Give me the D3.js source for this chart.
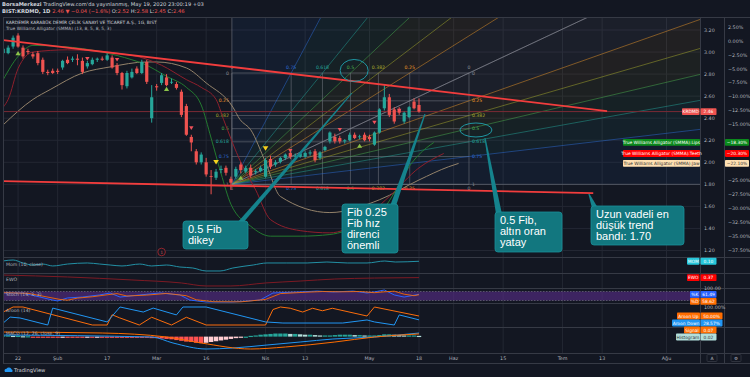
<!DOCTYPE html>
<html><head><meta charset="utf-8">
<script src="https://cdn.jsdelivr.net/npm/d3@7"></script>
<style>
body{margin:0;background:#131722;}
svg{display:block;font-family:"DejaVu Sans",sans-serif;}
</style></head><body>
<svg id="chart" width="750" height="377"></svg>
<script>
// daily bars, [open, high, low, close]
const candles = [
[2.99,3.05,2.97,3.03],[2.99,3.06,2.98,3.04],[3.05,3.15,3.03,3.13],[3.15,3.17,3.04,3.05],
[3.04,3.06,2.94,2.96],[3.01,3.03,2.98,3.00],[2.98,3.00,2.94,2.96],[2.99,3.01,2.88,2.90],
[2.93,2.95,2.80,2.82],[2.82,2.84,2.79,2.81],[2.83,2.85,2.80,2.81],[2.83,2.85,2.80,2.82],
[2.86,2.93,2.84,2.92],[2.93,2.96,2.89,2.90],[2.93,2.96,2.91,2.94],[2.94,2.98,2.88,2.93],
[2.92,2.95,2.80,2.82],[2.87,2.92,2.85,2.90],[2.89,2.95,2.88,2.93],[2.93,2.95,2.91,2.94],
[2.94,2.96,2.92,2.93],[2.93,2.99,2.92,2.97],[2.95,2.97,2.85,2.86],[2.88,2.90,2.79,2.81],
[2.81,2.82,2.66,2.70],[2.69,2.83,2.67,2.81],[2.77,2.85,2.76,2.82],[2.85,2.87,2.80,2.81],
[2.81,2.93,2.80,2.91],[2.91,2.93,2.71,2.73],[2.40,2.70,2.36,2.59],[2.69,2.71,2.65,2.68],
[2.72,2.81,2.70,2.79],[2.77,2.80,2.69,2.70],[2.73,2.76,2.71,2.73],[2.71,2.73,2.66,2.675],
[2.64,2.66,2.41,2.43],[2.51,2.53,2.24,2.25],[2.23,2.25,2.10,2.18],[2.10,2.12,1.98,2.00],
[2.00,2.09,1.98,2.07],[2.00,2.04,1.87,1.89],[1.875,1.93,1.71,1.87],[1.86,1.94,1.84,1.915],
[1.93,1.97,1.90,1.94],[1.95,1.97,1.88,1.905],[1.85,1.87,1.75,1.815],[1.87,1.96,1.85,1.94],
[1.98,2.00,1.90,1.93],[1.915,1.97,1.90,1.95],[1.95,1.98,1.86,1.88],[1.91,1.94,1.89,1.92],
[1.92,1.97,1.91,1.95],[1.87,2.04,1.86,2.02],[2.03,2.06,1.94,1.96],[1.98,2.02,1.96,2.00],
[2.005,2.05,1.99,2.04],[2.04,2.08,2.02,2.07],[2.085,2.10,2.03,2.05],[2.06,2.08,2.04,2.06],
[2.05,2.09,2.04,2.08],[2.05,2.10,2.04,2.085],[2.08,2.11,2.06,2.09],[2.10,2.12,2.00,2.02],
[2.04,2.10,2.02,2.09],[2.11,2.15,2.10,2.14],[2.19,2.28,2.17,2.27],[2.23,2.26,2.17,2.19],
[2.22,2.24,2.17,2.19],[2.19,2.21,2.17,2.20],[2.20,2.27,2.19,2.25],[2.25,2.27,2.21,2.22],
[2.23,2.25,2.21,2.235],[2.25,2.27,2.19,2.20],[2.23,2.25,2.19,2.21],[2.16,2.28,2.15,2.27],
[2.27,2.49,2.26,2.48],[2.49,2.70,2.47,2.59],[2.59,2.62,2.41,2.43],[2.48,2.50,2.35,2.37],
[2.48,2.50,2.43,2.45],[2.37,2.46,2.35,2.45],[2.41,2.51,2.40,2.50],[2.55,2.58,2.48,2.49],
[2.52,2.58,2.45,2.46]
];

// alligator lines [bar index, value]
const lips = [[0,2.75],[3,2.96],[6,3.06],[12,3.05],[20,3.00],[26,2.93],[28,2.90],[33,2.78],[37,2.68],[40,2.52],[42,2.22],[44,1.90],[46,1.62],[50,1.42],[54,1.33],[60,1.33],[66,1.345],[72,1.43],[76,1.53],[80,1.80],[82,1.96],[84,2.07],[87,2.18]];
const teeth = [[0,2.50],[1,2.57],[3,2.85],[6,3.00],[13,3.02],[26,2.97],[32,2.88],[37,2.75],[40,2.68],[43,2.57],[44.5,2.39],[48,2.00],[51,1.75],[54,1.48],[60,1.38],[66,1.36],[72,1.46],[78,1.69],[84,1.95],[89,2.08]];
const jaw = [[0,2.34],[6,2.57],[9.5,2.66],[16,2.81],[21.6,2.865],[29,2.91],[31,2.91],[37,2.856],[41,2.72],[46.4,2.50],[47.8,2.39],[50,2.295],[53,2.00],[56,1.69],[66,1.544],[76,1.66],[84,1.84],[90,1.96],[92,1.99]];
const alligatorPct = ["\u221218.30%","\u221220.30%","\u221222.10%"];

// fractal markers [bar index, value]
const fractalRed = [[17,2.94],[23,2.93],[38,2.31],[58,2.105],[68,2.295],[75,2.36],[80,2.47]];
const fractalYellow = [[43,2.00],[53,2.125]];
const fractalGreen = [[3,2.99],[33,2.666],[48,1.86],[72,2.15]];

// trend lines drawn on the chart
const trendUpper = [[0,3.109],[122,2.465]];
const trendLower = [[0,1.830],[119.2,1.72]];

// fib speed resistance fan
const fibStart = [46.2, 1.80];
const fibEnd = [94.1, 2.81];
const fibLevels = [0, 0.25, 0.382, 0.5, 0.618, 0.75, 1];
const fibColors = ["#8a8d96","#e8962a","#a9ad2e","#4caf50","#26a69a","#2f6fd8","#8a8d96"];

// sub panes
const mom = [[0,0.13],[2,0.22],[4,-0.06],[6,-0.25],[8,-0.16],[10,-0.34],[13,-0.16],[17,-0.06],[19.5,-0.16],[21.6,-0.25],[24,-0.34],[27.6,-0.16],[30,-0.34],[33,-0.25],[35.7,-0.44],[38.3,-0.53],[41,-0.81],[43.8,-0.81],[46.4,-0.53],[50.5,-0.25],[53.3,-0.06],[57.3,-0.06],[61.4,-0.06],[65.4,0.03],[69.5,-0.06],[73.5,-0.06],[77.1,0.125],[79.2,0.03],[84,0.10]];
const ewo = [[0,0.61],[13,0.43],[26,0.15],[36,-0.13],[41,-0.41],[46,-0.41],[53,-0.13],[60,0.05],[67,0.24],[75,0.33],[84,0.37]];
const stochK = [[0,70],[4,70],[10,23],[11,17],[13,37],[16,43],[19.5,57],[21.6,70],[23.6,43],[27.6,57],[31.7,70],[35.7,57],[37.7,23],[41,10],[46.4,10],[51.9,23],[54.5,70],[60,77],[63.4,83],[66.6,77],[70.7,83],[73.5,70],[75,77],[77,90],[79,57],[81,43],[84,61.49]];
const stochD = [[0,72],[5,68],[11.5,27],[13,22],[15,36],[18,45],[21,58],[23,66],[25,50],[29,56],[33,67],[37,52],[39,25],[42.5,12],[48,11],[53,27],[56,66],[61,75],[64.5,80],[68,78],[72,80],[75,72],[77,78],[79,82],[81,62],[83,52],[84,58.62]];
const aroonUp = [[0,72],[2,100],[4,100],[18,0],[21,0],[22,57],[23.5,40],[27.5,0],[30,43],[34,0],[37,43],[41,0],[53,0],[54.5,86],[56,100],[58,93],[60.5,72],[62.5,93],[64.5,79],[66.5,93],[73.5,50],[75,100],[84,50]];
const aroonDown = [[0,11],[1.4,44],[3.4,39],[9,0],[10,94],[21,17],[23.6,100],[28.3,72],[30.3,94],[35,56],[36.3,100],[41,100],[53,17],[56.5,11],[68.6,11],[73.5,28],[75,17],[79,0],[80,56],[84,28.57]];
const macdLine = [[0,0.04],[30,-0.01],[34.3,-0.166],[41,-0.322],[46.4,-0.296],[53.3,-0.218],[60,-0.14],[66.6,-0.062],[75,-0.01],[84,0.094]];
const macdSignal = [[0,0.12],[20,0.094],[33,-0.01],[40,-0.166],[50,-0.322],[57,-0.27],[67,-0.14],[75,-0.01],[84,0.07]];
const macdHist = [0.03,0.03,0.02,0.02,0.01,0.01,
-0.01,-0.02,-0.03,-0.03,-0.03,-0.03,-0.02,-0.02,-0.02,-0.02,-0.03,-0.02,
-0.02,-0.01,-0.01,-0.01,-0.01,-0.01,-0.02,-0.02,-0.02,-0.02,-0.02,-0.03,-0.04,-0.04,
-0.05,-0.06,-0.07,-0.09,-0.11,-0.13,-0.14,-0.16,-0.17,
-0.16,-0.14,-0.12,-0.10,-0.08,-0.06,-0.04,-0.02,
0.00,0.02,0.03,0.05,0.06,0.07,0.08,0.08,0.08,0.07,0.07,0.06,
0.05,0.05,0.04,0.03,0.03,0.03,0.04,0.05,0.05,0.05,
0.04,0.04,0.03,0.03,0.03,0.04,0.06,0.06,0.05,0.04,0.03,0.03,0.03,0.02];

// axes
const timeTicks = [[3,"22"],[11,"\u015eub"],[21,"17"],[31,"Mar"],[41,"16"],[53,"Nis"],[61,"13"],[74,"May"],[84,"18"],[91,"Haz"],[101,"15"],[113,"Tem"],[121,"13"],[134,"A\u011fu"]];
const priceTicks = [1.2,1.4,1.6,1.8,2.0,2.2,2.4,2.6,2.8,3.0,3.2];
const pctTicks = [2.5,0,-2.5,-5,-7.5,-10,-12.5,-15,-17.5,-20,-22.5,-25,-27.5,-30,-32.5,-35,-37.5];

// notes
const notes = [
  {lines:["0.5 Fib","dikey"], box:[183,221,65,28], base:-8, tip:[70.46,2.6286]},
  {lines:["Fib 0.25","Fib h\u0131z","direnci","\u00f6nemli"], box:[342,204,56,49], base:-5, tip:[85.2,2.438]},
  {lines:["0.5 Fib,","alt\u0131n oran","yatay"], box:[495,212,67,40], base:4, tip:[97.33,2.2204]},
  {lines:["Uzun vadeli en","d\u00fc\u015f\u00fck trend","band\u0131: 1.70"], box:[591,206,93,39], base:4, tip:[118.34,1.7125]}
];

const svg = d3.select("#chart");
const up = "#26a69a", down = "#ef5350";
const gridC = "#232733", sepC = "#363a45", txt = "#b2b5be";
const L = 3, R = 700, R2 = 724;
const panes = {main:[17,257], mom:[257,273], ewo:[273,288], stoch:[288,303], aroon:[303,327], macd:[327,353]};

const x = d3.scaleLinear().domain([0, 136]).range([3.2, 3.2 + 136 * 4.95]);
const y = d3.scaleLinear().domain([1.2, 3.2]).range([250.5, 30]);
const yPct = d3.scaleLinear().domain([-37.5, 2.5]).range([250, 27]);
const yMom = d3.scaleLinear().domain([-1, 0.5]).range([273, 257]);
const yEwo = d3.scaleLinear().domain([-0.6, 0.8]).range([288, 273]);
const yStoch = d3.scaleLinear().domain([0, 100]).range([303.5, 288.5]);
const yAroon = d3.scaleLinear().domain([0, 100]).range([325, 307]);
const yMacd = d3.scaleLinear().domain([-0.4, 0.25]).range([352, 327]);

svg.append("rect").attr("width", 750).attr("height", 377).attr("fill", "#131722");

const defs = svg.append("defs");
Object.entries(panes).forEach(([k, p]) => {
  defs.append("clipPath").attr("id", "clip-" + k)
    .append("rect").attr("x", L).attr("y", p[0]).attr("width", R - L).attr("height", p[1] - p[0]);
});

// grid
const grid = svg.append("g");
grid.selectAll("line.v").data(timeTicks).join("line")
  .attr("x1", d => x(d[0])).attr("x2", d => x(d[0]))
  .attr("y1", 17).attr("y2", 353).attr("stroke", gridC);
grid.selectAll("line.h").data(priceTicks).join("line")
  .attr("x1", L).attr("x2", R).attr("y1", d => y(d)).attr("y2", d => y(d)).attr("stroke", gridC);

// fib fan
const fan = svg.append("g").attr("clip-path", "url(#clip-main)");
const A = {x: x(fibStart[0]), y: y(fibStart[1])};
const B = {x: x(fibEnd[0]), y: y(fibEnd[1])};
const hPts = fibLevels.map(l => ({x: B.x, y: B.y + l * (A.y - B.y)}));
const vPts = fibLevels.map(l => ({x: B.x - l * (B.x - A.x), y: B.y}));
const far = p => [A.x + (p.x - A.x) * 20, A.y + (p.y - A.y) * 20];
[hPts, vPts].forEach(pts => {
  for (let k = 0; k < pts.length - 1; k++) {
    fan.append("polygon")
      .attr("points", [[A.x, A.y], far(pts[k]), far(pts[k + 1])].map(p => p.join(",")).join(" "))
      .attr("fill", fibColors[k]).attr("fill-opacity", 0.07);
  }
});
fibLevels.forEach((l, k) => {
  fan.append("line").attr("x1", A.x).attr("y1", hPts[k].y).attr("x2", B.x).attr("y2", hPts[k].y)
    .attr("stroke", "#6b6f7a").attr("stroke-opacity", 0.6);
  fan.append("line").attr("x1", vPts[k].x).attr("y1", B.y).attr("x2", vPts[k].x).attr("y2", A.y)
    .attr("stroke", "#6b6f7a").attr("stroke-opacity", 0.6);
});
[hPts, vPts].forEach(pts => {
  pts.forEach((p, k) => {
    const f = far(p);
    fan.append("line").attr("x1", A.x).attr("y1", A.y).attr("x2", f[0]).attr("y2", f[1])
      .attr("stroke", fibColors[k]).attr("stroke-opacity", 0.55).attr("stroke-width", 0.9);
  });
});
const fibLab = svg.append("g").attr("font-size", 4.6);
fibLevels.forEach((l, k) => {
  const t = String(l);
  fibLab.append("text").attr("x", A.x - 3).attr("y", hPts[k].y + 1.6).attr("text-anchor", "end").attr("fill", fibColors[k]).text(t);
  fibLab.append("text").attr("x", B.x + 3).attr("y", hPts[k].y + 1.6).attr("fill", fibColors[k]).text(t);
  fibLab.append("text").attr("x", vPts[k].x).attr("y", B.y - 4).attr("text-anchor", "middle").attr("fill", fibColors[k]).text(t);
  fibLab.append("text").attr("x", vPts[k].x).attr("y", A.y + 6).attr("text-anchor", "middle").attr("fill", fibColors[k]).text(t);
});

// alligator
const gMain = svg.append("g").attr("clip-path", "url(#clip-main)");
const smooth = d3.line().x(d => x(d[0])).y(d => y(d[1])).curve(d3.curveMonotoneX);
gMain.append("path").attr("d", smooth(jaw)).attr("fill", "none").attr("stroke", "#93826a").attr("stroke-width", 1);
gMain.append("path").attr("d", smooth(teeth)).attr("fill", "none").attr("stroke", "#8e1f2c").attr("stroke-width", 1);
gMain.append("path").attr("d", smooth(lips)).attr("fill", "none").attr("stroke", "#237a30").attr("stroke-width", 1);

// last price line
gMain.append("line").attr("x1", L).attr("x2", R)
  .attr("y1", y(candles[candles.length - 1][3])).attr("y2", y(candles[candles.length - 1][3]))
  .attr("stroke", "#7a2b35").attr("stroke-width", 1);

// candles
gMain.selectAll("line.wick").data(candles).join("line")
  .attr("x1", (d, i) => x(i)).attr("x2", (d, i) => x(i))
  .attr("y1", d => y(d[1])).attr("y2", d => y(d[2]))
  .attr("stroke", d => d[3] >= d[0] ? up : down);
gMain.selectAll("rect.body").data(candles).join("rect")
  .attr("x", (d, i) => x(i) - 1.6).attr("width", 3.2)
  .attr("y", d => y(Math.max(d[0], d[3])))
  .attr("height", d => Math.max(0.8, Math.abs(y(d[0]) - y(d[3]))))
  .attr("fill", d => d[3] >= d[0] ? up : down);

// fractals
const tri = (cx, cy, s, dir) => dir > 0
  ? `M${cx - s},${cy + s * 0.8}L${cx + s},${cy + s * 0.8}L${cx},${cy - s * 0.8}Z`
  : `M${cx - s},${cy - s * 0.8}L${cx + s},${cy - s * 0.8}L${cx},${cy + s * 0.8}Z`;
gMain.selectAll("path.fr").data(fractalRed).join("path")
  .attr("d", d => tri(x(d[0]), y(d[1]), 2.2, -1)).attr("fill", "#f0515a");
gMain.selectAll("path.fy").data(fractalYellow).join("path")
  .attr("d", d => tri(x(d[0]), y(d[1]), 2.8, -1)).attr("fill", "#f5d21e");
gMain.selectAll("path.fg").data(fractalGreen).join("path")
  .attr("d", d => tri(x(d[0]), y(d[1]), 2.6, 1)).attr("fill", "#8bc34a");

// trend lines
[trendUpper, trendLower].forEach(t => {
  gMain.append("line").attr("x1", x(t[0][0])).attr("y1", y(t[0][1]))
    .attr("x2", x(t[1][0])).attr("y2", y(t[1][1]))
    .attr("stroke", "#f23d3d").attr("stroke-width", 1.8);
});

// circled labels
gMain.append("ellipse").attr("cx", x(70.9)).attr("cy", y(2.833)).attr("rx", 14).attr("ry", 11)
  .attr("fill", "none").attr("stroke", "#1fa3b0").attr("stroke-width", 0.9);
gMain.append("ellipse").attr("cx", x(95.5)).attr("cy", y(2.293)).attr("rx", 16).attr("ry", 7)
  .attr("fill", "none").attr("stroke", "#1fa3b0").attr("stroke-width", 0.9);

// event marker
gMain.append("circle").attr("cx", x(32)).attr("cy", 252).attr("r", 3.8)
  .attr("fill", "#131722").attr("stroke", "#b02a30").attr("stroke-width", 0.8);
gMain.append("text").attr("x", x(32)).attr("y", 253.6).attr("text-anchor", "middle")
  .attr("font-size", 4.5).attr("fill", "#d05058").text("1");

// sub panes
function pane(key, fn) {
  const g = svg.append("g").attr("clip-path", "url(#clip-" + key + ")");
  fn(g);
}
const mkLine = (ys, curve) => d3.line().x(d => x(d[0])).y(d => ys(d[1])).curve(curve);
pane("mom", g => {
  g.append("path").attr("d", mkLine(yMom, d3.curveMonotoneX)(mom)).attr("fill", "none").attr("stroke", "#2390a5");
});
pane("ewo", g => {
  g.append("path").attr("d", mkLine(yEwo, d3.curveMonotoneX)(ewo)).attr("fill", "none").attr("stroke", "#7d1a24");
});
pane("stoch", g => {
  g.append("rect").attr("x", L).attr("width", R - L).attr("y", yStoch(80)).attr("height", yStoch(20) - yStoch(80))
    .attr("fill", "#5a2d8c").attr("fill-opacity", 0.6);
  [80, 20].forEach(v => g.append("line").attr("x1", L).attr("x2", R).attr("y1", yStoch(v)).attr("y2", yStoch(v))
    .attr("stroke", "#787b86").attr("stroke-dasharray", "1.5,1.5").attr("stroke-width", 0.6));
  g.append("path").attr("d", mkLine(yStoch, d3.curveLinear)(stochK)).attr("fill", "none").attr("stroke", "#2962ff");
  g.append("path").attr("d", mkLine(yStoch, d3.curveLinear)(stochD)).attr("fill", "none").attr("stroke", "#ff6d00").attr("stroke-opacity", 0.85);
});
pane("aroon", g => {
  g.append("path").attr("d", mkLine(yAroon, d3.curveLinear)(aroonUp)).attr("fill", "none").attr("stroke", "#fb6d0c");
  g.append("path").attr("d", mkLine(yAroon, d3.curveLinear)(aroonDown)).attr("fill", "none").attr("stroke", "#2196f3");
});
pane("macd", g => {
  g.selectAll("rect").data(macdHist).join("rect")
    .attr("x", (d, i) => x(i) - 2.2).attr("width", 4.4)
    .attr("y", d => Math.min(yMacd(0), yMacd(d)))
    .attr("height", d => Math.max(1.2, Math.abs(yMacd(d) - yMacd(0))))
    .attr("fill", (d, i) => {
      const p = i > 0 ? macdHist[i - 1] : d;
      if (d >= 0) return d >= p ? "#26a69a" : "#b2dfdb";
      return d <= p ? "#ff5252" : "#ffcdd2";
    });
  g.append("path").attr("d", mkLine(yMacd, d3.curveMonotoneX)(macdLine)).attr("fill", "none").attr("stroke", "#2196f3");
  g.append("path").attr("d", mkLine(yMacd, d3.curveMonotoneX)(macdSignal)).attr("fill", "none").attr("stroke", "#ff6d00");
});

// separators and borders
const sep = svg.append("g").attr("stroke", sepC).attr("stroke-width", 1);
[17, 257, 273, 288, 303, 327, 353, 363].forEach(v =>
  sep.append("line").attr("x1", L).attr("x2", 750).attr("y1", v + 0.5).attr("y2", v + 0.5));
[L, R, R2].forEach(v => sep.append("line").attr("x1", v + 0.5).attr("x2", v + 0.5).attr("y1", 17).attr("y2", 363));

// notes
const gNotes = svg.append("g");
notes.forEach(n => {
  const [bx, by, bw, bh] = n.box;
  const baseX = n.base < 0 ? bx + bw + n.base : bx + n.base;
  const tx = x(n.tip[0]), ty = y(n.tip[1]);
  gNotes.append("path")
    .attr("d", `M${baseX - 3},${by + 2}L${baseX + 3},${by + 2}L${tx + 0.6},${ty}L${tx - 0.6},${ty}Z`)
    .attr("fill", "#15838d");
  gNotes.append("rect").attr("x", bx).attr("y", by).attr("width", bw).attr("height", bh).attr("rx", 3)
    .attr("fill", "#12777f").attr("stroke", "#1a8f99").attr("stroke-width", 0.8);
  n.lines.forEach((t, j) => {
    gNotes.append("text").attr("x", bx + 5).attr("y", by + 11.5 + j * 11)
      .attr("font-family", "Liberation Sans, sans-serif").attr("font-size", 11).attr("fill", "#ffffff").text(t);
  });
});

// value tags
const last = candles[candles.length - 1][3];
const alligTags = [[lips, "Lips", "#0b8a1c", "#ffffff"], [teeth, "Teeth", "#ff0000", "#ffffff"], [jaw, "Jaw", "#ffe0b2", "#333333"]];
const tagRows = alligTags.map(a => y(a[0][a[0].length - 1][1]));

// axes text
const ax = svg.append("g").attr("font-size", 4.8).attr("fill", txt);
priceTicks.forEach(v => ax.append("text").attr("x", 704).attr("y", y(v) + 1.7).text(v.toFixed(2)));
pctTicks.filter(v => tagRows.every(r => Math.abs(yPct(v) - r) > 5)).forEach(v =>
  ax.append("text").attr("x", 728).attr("y", yPct(v) + 1.7)
    .text((v < 0 ? "\u2212" : "") + Math.abs(v).toFixed(2) + "%"));
timeTicks.forEach(t => ax.append("text").attr("x", x(t[0])).attr("y", 360).attr("text-anchor", "middle").text(t[1]));
ax.append("text").attr("x", 704).attr("y", 290).text("100.00");
ax.append("text").attr("x", 704).attr("y", 308.5).text("100.00%");

function tag(x0, yc, w, t, bg, fg) {
  svg.append("rect").attr("x", x0).attr("y", yc - 3.4).attr("width", w).attr("height", 6.8).attr("rx", 0.8).attr("fill", bg);
  svg.append("text").attr("x", x0 + w / 2).attr("y", yc + 1.6).attr("text-anchor", "middle")
    .attr("font-size", 4.4).attr("fill", fg || "#ffffff").text(t);
}
tag(682, y(last), 17.5, "KRDMD", "#ef5350");
tag(700.5, y(last), 16, last.toFixed(2), "#ef5350");
alligTags.forEach((a, k) => {
  tag(623, tagRows[k], 77, "True Williams Alligator (SMMA):" + a[1], a[2], a[3]);
  tag(725, tagRows[k], 24, alligatorPct[k], a[2], a[3]);
});
tag(687, yMom(0.10), 12.5, "MOM", "#26c6da");
tag(700.5, yMom(0.10), 16, "0.10", "#26c6da");
tag(687, yEwo(0.37), 12.5, "EWO", "#ff0000");
tag(700.5, yEwo(0.37), 16, "0.37", "#ff0000");
tag(690, yStoch(61.49), 9.5, "%K", "#2962ff");
tag(700.5, yStoch(61.49), 16, "61.49", "#2962ff");
tag(690, yStoch(61.49) + 7, 9.5, "%D", "#ff6d00");
tag(700.5, yStoch(61.49) + 7, 16, "58.62", "#ff6d00");
tag(677, yAroon(50), 23, "Aroon Up", "#ff6d00");
tag(700.5, yAroon(50), 22, "50.00%", "#ff6d00");
tag(672, yAroon(50) + 7, 28, "Aroon Down", "#2196f3");
tag(700.5, yAroon(50) + 7, 22, "28.57%", "#2196f3");
tag(684, 330, 16, "Signal", "#ff6d00");
tag(700.5, 330, 16, "0.07", "#ff6d00");
tag(676, 337, 24, "Histogram", "#b2dfdb", "#333333");
tag(700.5, 337, 16, "0.02", "#b2dfdb", "#333333");

// pane titles
const pt = svg.append("g").attr("font-size", 4.6).attr("fill", txt);
pt.append("text").attr("x", 6).attr("y", 265.5).text("Mom (10, close)");
pt.append("text").attr("x", 6).attr("y", 281).text("EWO");
pt.append("text").attr("x", 6).attr("y", 296).text("Stoch (14, 3, 3)");
pt.append("text").attr("x", 6).attr("y", 311.5).text("Aroon (14)");
pt.append("text").attr("x", 6).attr("y", 335).text("MACD (12, 26, close, 9)");
pt.append("text").attr("x", 6).attr("y", 24).attr("font-size", 4.4).attr("fill", "#d1d4dc")
  .text("KARDEM\u0130R KARAB\u00dcK DEM\u0130R \u00c7EL\u0130K SANAY\u0130 VE T\u0130CARET A.\u015e., 1G, BIST");
pt.append("text").attr("x", 6).attr("y", 30).attr("font-size", 4.4)
  .text("True Williams Alligator (SMMA) (13, 8, 5, 8, 5, 3)");

// header
const h1 = svg.append("text").attr("x", 2).attr("y", 6).attr("font-size", 5.2).attr("fill", "#d1d4dc");
h1.append("tspan").attr("font-weight", "bold").text("BorsaMerkezi");
h1.append("tspan").text(" TradingView.com'da yay\u0131nlanm\u0131\u015f, May 19, 2020 23:00:19 +03");
const h2 = svg.append("text").attr("x", 2).attr("y", 13).attr("font-size", 5.2).attr("fill", "#d1d4dc");
const red = "#ef5350";
[["BIST:KRDMD, 1D ", null, "bold"], ["2.46 \u25bc \u22120.04 (\u22121.6%) ", red], ["O:", null], ["2.52", red], [" H:", null], ["2.58", red],
 [" L:", null], ["2.45", red], [" C:", null], ["2.46", red]].forEach(s => {
  const ts = h2.append("tspan").text(s[0]);
  if (s[1]) ts.attr("fill", s[1]);
  if (s[2]) ts.attr("font-weight", s[2]);
});

// footer
svg.append("path").attr("d", "M5,372 a2,2 0 0 1 1.5,-3.3 a2.8,2.8 0 0 1 5,0.6 a1.6,1.6 0 0 1 0.6,2.7 Z").attr("fill", "#2196f3");
svg.append("text").attr("x", 14).attr("y", 372).attr("font-size", 5.2).attr("fill", "#d1d4dc").text("TradingView");

// corner buttons
[[707, "A"], [731, "\u2699"]].forEach(b => {
  svg.append("rect").attr("x", b[0]).attr("y", 354.5).attr("width", 10).attr("height", 7).attr("rx", 1)
    .attr("fill", "none").attr("stroke", "#2e323d");
  svg.append("text").attr("x", b[0] + 5).attr("y", 359.8).attr("text-anchor", "middle").attr("font-size", 4.5).attr("fill", txt).text(b[1]);
});
</script>
</body></html>
